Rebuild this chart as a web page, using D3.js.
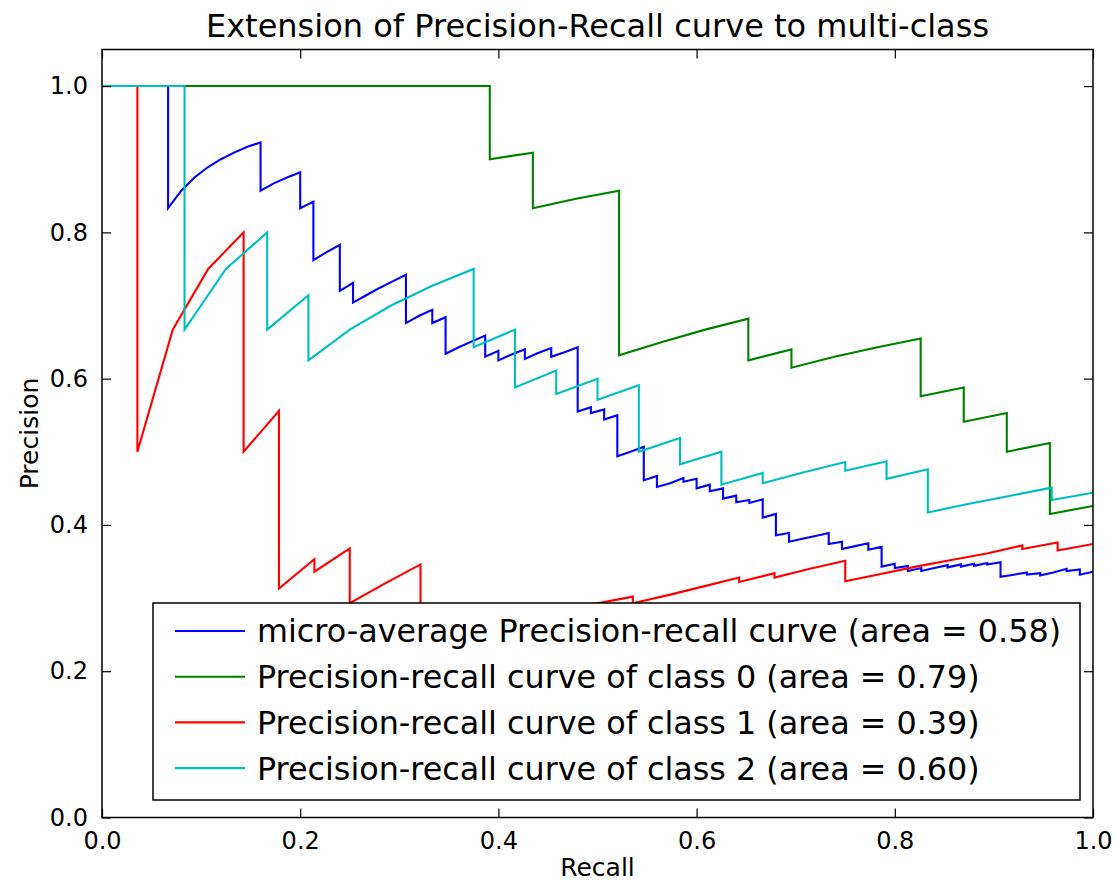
<!DOCTYPE html>
<html>
<head>
<meta charset="utf-8">
<script src="https://cdn.jsdelivr.net/npm/d3@7"></script>
<style>
  html, body { margin: 0; padding: 0; background: #fff; }
  svg { display: block; }
  text { font-family: "DejaVu Sans", sans-serif; fill: #000; }
</style>
</head>
<body>
<svg id="chart" width="1117" height="880"></svg>
<script>
// ---------------- data ----------------
const title = "Extension of Precision-Recall curve to multi-class";
const xLabel = "Recall";
const yLabel = "Precision";
const xTicks = [0.0, 0.2, 0.4, 0.6, 0.8, 1.0];
const yTicks = [0.0, 0.2, 0.4, 0.6, 0.8, 1.0];

const seriesNames = [
  "micro-average Precision-recall curve (area = 0.58)",
  "Precision-recall curve of class 0 (area = 0.79)",
  "Precision-recall curve of class 1 (area = 0.39)",
  "Precision-recall curve of class 2 (area = 0.60)"
];
const seriesColors = ["#0000ff", "#008000", "#ff0000", "#00bfbf"];

// micro-average
const microRecall = [0, 0.0667, 0.0667, 0.08, 0.0933, 0.1067, 0.12, 0.1333, 0.1467, 0.16, 0.16, 0.1733, 0.1867, 0.2, 0.2, 0.2133, 0.2133, 0.2267, 0.24, 0.24, 0.2533, 0.2533, 0.2667, 0.28, 0.2933, 0.3067, 0.3067, 0.32, 0.3333, 0.3333, 0.3467, 0.3467, 0.36, 0.3733, 0.3867, 0.3867, 0.4, 0.4, 0.4133, 0.4267, 0.4267, 0.44, 0.4533, 0.4533, 0.4667, 0.48, 0.48, 0.4933, 0.4933, 0.5067, 0.5067, 0.52, 0.52, 0.5333, 0.5467, 0.5467, 0.56, 0.56, 0.5733, 0.5867, 0.5867, 0.6, 0.6, 0.6133, 0.6133, 0.6267, 0.6267, 0.64, 0.64, 0.6533, 0.6533, 0.6667, 0.6667, 0.68, 0.68, 0.6933, 0.6933, 0.7067, 0.72, 0.7333, 0.7333, 0.7467, 0.7467, 0.76, 0.7733, 0.7733, 0.7867, 0.7867, 0.8, 0.8, 0.8133, 0.8133, 0.8267, 0.8267, 0.84, 0.8533, 0.8533, 0.8667, 0.8667, 0.88, 0.88, 0.8933, 0.8933, 0.9067, 0.9067, 0.92, 0.9333, 0.9333, 0.9467, 0.9467, 0.96, 0.9733, 0.9733, 0.9867, 0.9867, 1.0];
const microPrecision = [1.0, 1.0, 0.833, 0.857, 0.875, 0.889, 0.9, 0.909, 0.917, 0.923, 0.857, 0.867, 0.875, 0.882, 0.833, 0.842, 0.762, 0.773, 0.783, 0.72, 0.731, 0.704, 0.714, 0.724, 0.733, 0.742, 0.676, 0.686, 0.694, 0.676, 0.684, 0.634, 0.643, 0.651, 0.659, 0.630, 0.638, 0.625, 0.633, 0.64, 0.627, 0.635, 0.642, 0.630, 0.636, 0.643, 0.555, 0.561, 0.553, 0.558, 0.544, 0.55, 0.494, 0.5, 0.507, 0.461, 0.467, 0.452, 0.457, 0.464, 0.459, 0.463, 0.45, 0.455, 0.446, 0.45, 0.436, 0.44, 0.431, 0.434, 0.43, 0.435, 0.41, 0.415, 0.386, 0.389, 0.377, 0.381, 0.385, 0.389, 0.374, 0.377, 0.367, 0.371, 0.375, 0.366, 0.370, 0.343, 0.347, 0.341, 0.344, 0.337, 0.341, 0.337, 0.341, 0.345, 0.342, 0.346, 0.343, 0.347, 0.344, 0.348, 0.346, 0.349, 0.329, 0.332, 0.335, 0.332, 0.334, 0.331, 0.335, 0.34, 0.337, 0.339, 0.332, 0.336];

// class 0
const class0Recall = [0, 0.3913, 0.3913, 0.4348, 0.4348, 0.4783, 0.5217, 0.5217, 0.5652, 0.6087, 0.6522, 0.6522, 0.6957, 0.6957, 0.7391, 0.7826, 0.8261, 0.8261, 0.8696, 0.8696, 0.913, 0.913, 0.9565, 0.9565, 1.0];
const class0Precision = [1.0, 1.0, 0.9, 0.909, 0.833, 0.846, 0.857, 0.632, 0.65, 0.667, 0.682, 0.625, 0.64, 0.615, 0.63, 0.643, 0.655, 0.576, 0.588, 0.541, 0.553, 0.5, 0.512, 0.415, 0.426];

// class 1
const class1Recall = [0, 0.0357, 0.0357, 0.0714, 0.1071, 0.1429, 0.1429, 0.1786, 0.1786, 0.2143, 0.2143, 0.25, 0.25, 0.2857, 0.3214, 0.3214, 0.5357, 0.5357, 0.5714, 0.6071, 0.6429, 0.6429, 0.6786, 0.6786, 0.7143, 0.75, 0.75, 0.7857, 0.8214, 0.8571, 0.8929, 0.9286, 0.9286, 0.9643, 0.9643, 1.0];
const class1Precision = [1.0, 1.0, 0.5, 0.667, 0.75, 0.8, 0.5, 0.556, 0.313, 0.353, 0.336, 0.368, 0.293, 0.32, 0.346, 0.247, 0.302, 0.293, 0.304, 0.316, 0.328, 0.322, 0.334, 0.328, 0.34, 0.351, 0.323, 0.333, 0.343, 0.352, 0.361, 0.372, 0.367, 0.376, 0.365, 0.374];

// class 2
const class2Recall = [0, 0.0833, 0.0833, 0.125, 0.1667, 0.1667, 0.2083, 0.2083, 0.25, 0.2917, 0.3333, 0.375, 0.375, 0.4167, 0.4167, 0.4583, 0.4583, 0.5, 0.5, 0.5417, 0.5417, 0.5833, 0.5833, 0.625, 0.625, 0.6667, 0.6667, 0.7083, 0.75, 0.75, 0.7917, 0.7917, 0.8333, 0.8333, 0.875, 0.9167, 0.9583, 0.9583, 1.0];
const class2Precision = [1.0, 1.0, 0.667, 0.75, 0.8, 0.667, 0.714, 0.625, 0.667, 0.7, 0.727, 0.75, 0.643, 0.667, 0.588, 0.611, 0.579, 0.6, 0.571, 0.591, 0.5, 0.519, 0.483, 0.5, 0.455, 0.471, 0.457, 0.472, 0.486, 0.474, 0.487, 0.463, 0.476, 0.417, 0.429, 0.44, 0.451, 0.434, 0.444];

const recallSeries = [microRecall, class0Recall, class1Recall, class2Recall];
const precisionSeries = [microPrecision, class0Precision, class1Precision, class2Precision];

// ---------------- layout ----------------
const plot = { left: 102, right: 1093, top: 49.5, bottom: 817.5 };

const svg = d3.select("#chart");
const x = d3.scaleLinear().domain([0, 1]).range([plot.left, plot.right]);
const y = d3.scaleLinear().domain([0, 1.05]).range([plot.bottom, plot.top]);

// clip
svg.append("defs").append("clipPath").attr("id", "clip")
  .append("rect")
  .attr("x", plot.left).attr("y", plot.top)
  .attr("width", plot.right - plot.left).attr("height", plot.bottom - plot.top);

// lines
const line = d3.line().x(d => x(d[0])).y(d => y(d[1]));
const gLines = svg.append("g").attr("clip-path", "url(#clip)");
recallSeries.forEach((rx, i) => {
  const pts = rx.map((r, j) => [r, precisionSeries[i][j]]);
  gLines.append("path")
    .attr("d", line(pts))
    .attr("fill", "none")
    .attr("stroke", seriesColors[i])
    .attr("stroke-width", 2.1)
    .attr("stroke-linejoin", "miter");
});

// axes (ticks inward on all four sides)
const tickLen = 9;
const fmt = d3.format(".1f");
const axBottom = d3.axisBottom(x).tickValues(xTicks).tickFormat(fmt).tickSizeInner(-tickLen).tickSizeOuter(0).tickPadding(14);
const axTop = d3.axisTop(x).tickValues(xTicks).tickFormat("").tickSizeInner(-tickLen).tickSizeOuter(0);
const axLeft = d3.axisLeft(y).tickValues(yTicks).tickFormat(fmt).tickSizeInner(-tickLen).tickSizeOuter(0).tickPadding(14);
const axRight = d3.axisRight(y).tickValues(yTicks).tickFormat("").tickSizeInner(-tickLen).tickSizeOuter(0);

function styleAxis(g) {
  g.select(".domain").remove();
  g.selectAll(".tick line").attr("stroke", "#000").attr("stroke-width", 1.2);
  g.selectAll(".tick text").attr("font-size", 24).attr("font-family", "DejaVu Sans");
}
svg.append("g").attr("transform", `translate(0,${plot.bottom})`).call(axBottom).call(styleAxis);
svg.append("g").attr("transform", `translate(0,${plot.top})`).call(axTop).call(styleAxis);
svg.append("g").attr("transform", `translate(${plot.left},0)`).call(axLeft).call(styleAxis);
svg.append("g").attr("transform", `translate(${plot.right},0)`).call(axRight).call(styleAxis);

// frame
svg.append("rect")
  .attr("x", plot.left).attr("y", plot.top)
  .attr("width", plot.right - plot.left).attr("height", plot.bottom - plot.top)
  .attr("fill", "none").attr("stroke", "#000").attr("stroke-width", 1.5);

// title & labels
svg.append("text").attr("x", (plot.left + plot.right) / 2).attr("y", 37)
  .attr("text-anchor", "middle").attr("font-size", 32).text(title);
svg.append("text").attr("x", (plot.left + plot.right) / 2).attr("y", 876)
  .attr("text-anchor", "middle").attr("font-size", 25).text(xLabel);
svg.append("text")
  .attr("transform", `translate(38,${(plot.top + plot.bottom) / 2}) rotate(-90)`)
  .attr("text-anchor", "middle").attr("font-size", 25).text(yLabel);

// legend
const leg = { x: 153, y: 603, w: 927, h: 197, rowH: 45.7, first: 28 };
const gLeg = svg.append("g");
gLeg.append("rect").attr("x", leg.x).attr("y", leg.y).attr("width", leg.w).attr("height", leg.h)
  .attr("fill", "#fff").attr("stroke", "#000").attr("stroke-width", 1.5);
seriesNames.forEach((name, i) => {
  const cy = leg.y + leg.first + i * leg.rowH;
  gLeg.append("line").attr("x1", leg.x + 22).attr("x2", leg.x + 92)
    .attr("y1", cy).attr("y2", cy)
    .attr("stroke", seriesColors[i]).attr("stroke-width", 2.1);
  gLeg.append("text").attr("x", leg.x + 104).attr("y", cy)
    .attr("dy", "0.36em").attr("font-size", 31.8).text(name);
});
</script>
</body>
</html>
